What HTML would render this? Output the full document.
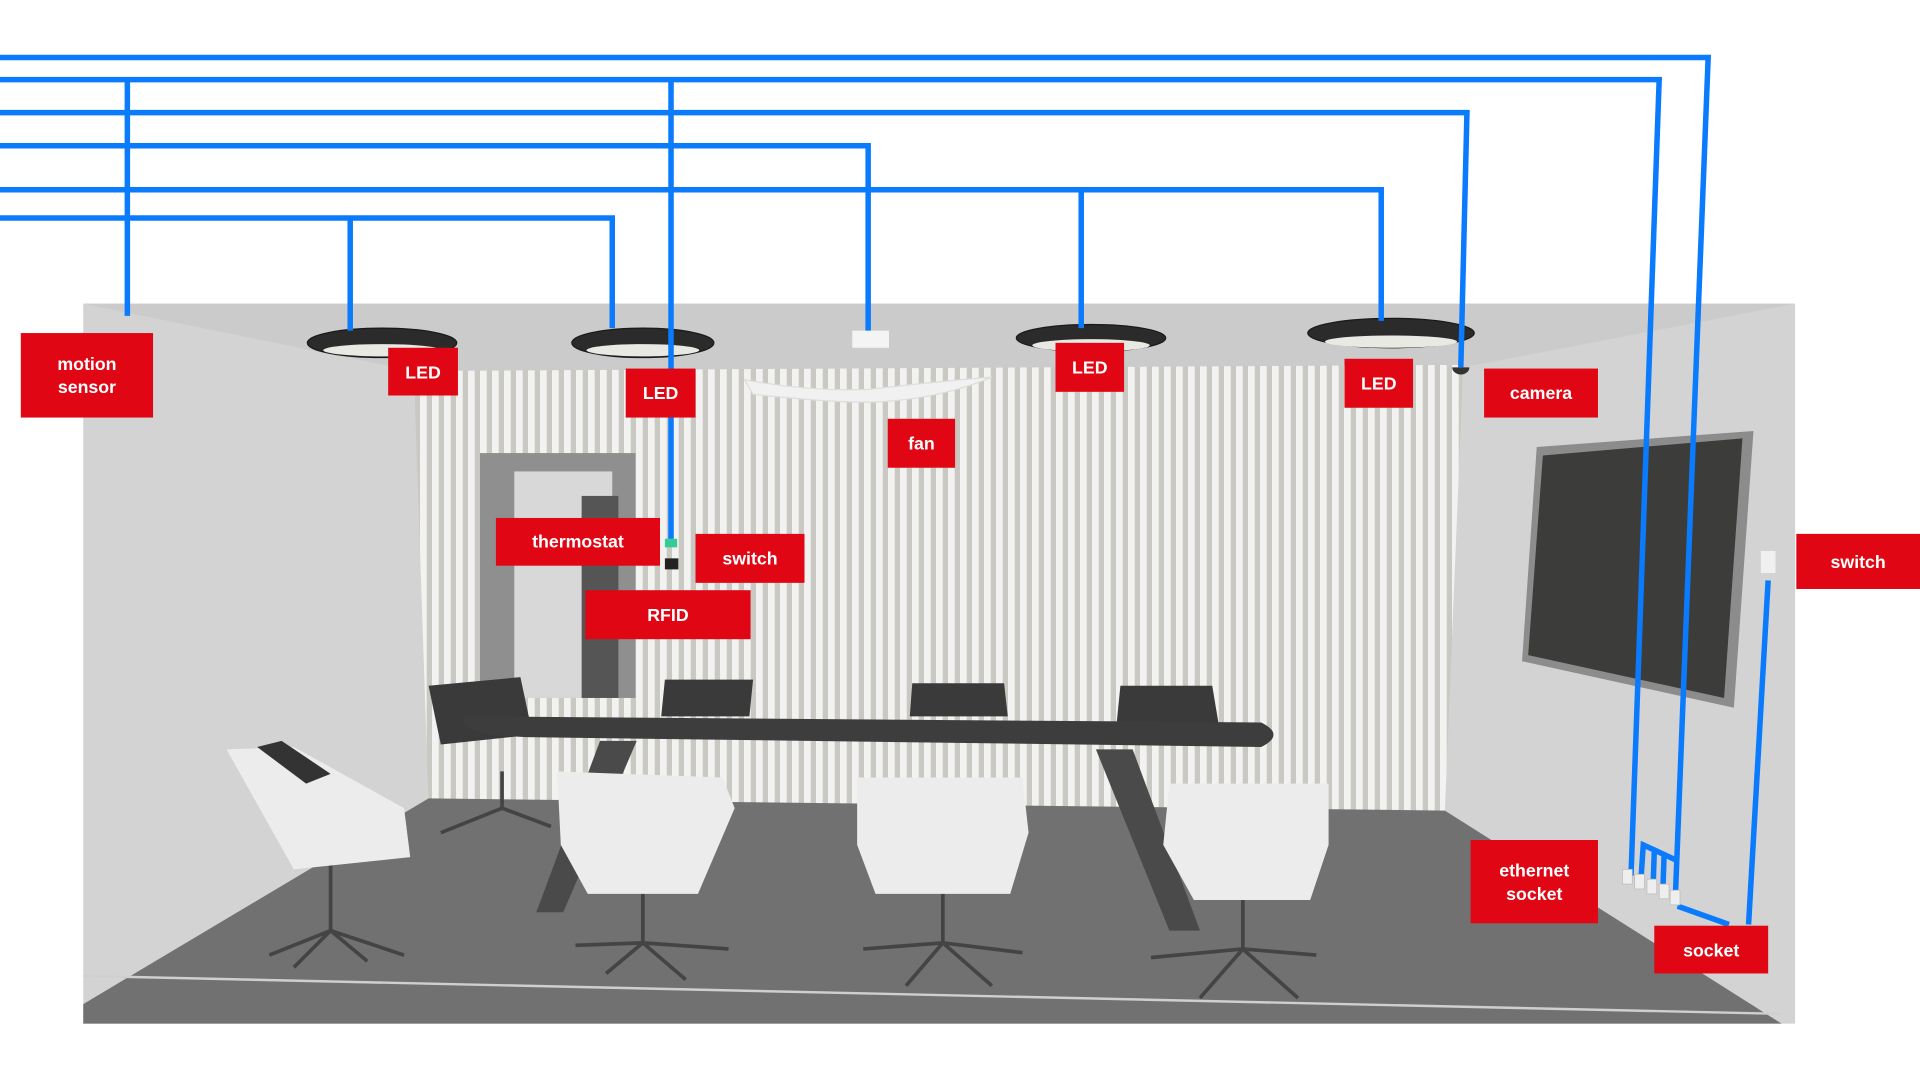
<!DOCTYPE html>
<html><head><meta charset="utf-8"><style>
html,body{margin:0;padding:0;background:#fff;}
svg{display:block}
text{font-family:"Liberation Sans",sans-serif;font-weight:bold;fill:#fff;font-size:14.5px;text-anchor:middle}
</style></head><body>
<svg width="1920" height="1080" viewBox="0 0 1568 882" preserveAspectRatio="none" xmlns="http://www.w3.org/2000/svg">
<defs>
<pattern id="slat" x="0" y="0" width="9.8" height="10" patternUnits="userSpaceOnUse">
<rect width="9.8" height="10" fill="#f2f2f0"/><rect x="5.5" width="4.3" height="10" fill="#c9c8c2"/>
</pattern>
</defs>
<rect x="68" y="248" width="1398" height="588" fill="#d3d3d3"/>
<polygon points="68,248 1466,248 1195,300 338,303" fill="#cbcbcb"/>
<polygon points="338,303 1195,298 1180,662 350,655" fill="url(#slat)"/>
<polygon points="68,820 350,652 1180,662 1455,836 68,836" fill="#717171"/>
<line x1="68" y1="797" x2="1455" y2="828" stroke="#cfcfcf" stroke-width="2"/>
<rect x="392" y="370" width="127" height="200" fill="#8f8f8f"/>
<rect x="420" y="385" width="80" height="185" fill="#d8d8d8"/>
<rect x="475" y="405" width="30" height="165" fill="#555"/>
<polygon points="1255,365 1432,352 1416,578 1243,540" fill="#8c8c8c"/>
<polygon points="1260,372 1423,358 1408,570 1248,535" fill="#3c3c3b"/>
<rect x="1438" y="450" width="12" height="18" fill="#f0f0f0"/>
<polygon points="350,560 425,553 435,600 360,608" fill="#3a3a3a"/>
<polygon points="543,555 615,555 612,585 540,585" fill="#3a3a3a"/>
<polygon points="745,558 820,558 823,585 743,585" fill="#3a3a3a"/>
<polygon points="915,560 990,560 995,590 912,590" fill="#3a3a3a"/>
<path d="M380,585 L1030,590 Q1050,600 1030,610 L430,602 Q370,600 380,585 Z" fill="#3d3d3d"/>
<polygon points="490,605 520,605 460,745 438,745" fill="#4a4a4a"/>
<polygon points="895,612 925,612 980,760 955,760" fill="#4a4a4a"/>
<g stroke="#444" stroke-width="3" fill="none">
<path d="M270,705 L270,760 M220,780 L270,760 L330,780 M270,760 L300,785 M240,790 L270,760"/>
<path d="M525,725 L525,770 M470,772 L525,770 L595,775 M525,770 L560,800 M495,795 L525,770"/>
<path d="M770,725 L770,770 M705,775 L770,770 L835,778 M770,770 L810,805 M740,805 L770,770"/>
<path d="M1015,730 L1015,775 M940,782 L1015,775 L1075,780 M1015,775 L1060,815 M980,815 L1015,775"/>
<path d="M410,630 L410,660 M360,680 L410,660 L450,675"/>
</g>
<polygon points="185,612 240,610 330,660 335,700 240,710" fill="#ececec"/>
<polygon points="210,610 250,640 270,632 230,605" fill="#333"/>
<polygon points="455,630 590,635 600,660 570,730 480,730 458,690" fill="#ececec"/>
<polygon points="700,635 835,635 840,680 825,730 715,730 700,690" fill="#ececec"/>
<polygon points="955,640 1085,640 1085,690 1070,735 975,735 950,690" fill="#ececec"/>
<rect x="696" y="270" width="30" height="14" fill="#f4f4f4"/>
<path d="M608,310 Q660,320 710,318 Q760,312 810,308 Q770,325 720,328 Q690,330 615,322 Z" fill="#f1f1f1" stroke="#ddd"/>
<g fill="#2b2b2b" stroke="#1a1a1a">
<ellipse cx="312" cy="280" rx="61" ry="12"/><ellipse cx="525" cy="280" rx="58" ry="12"/>
<ellipse cx="891" cy="276" rx="61" ry="11"/><ellipse cx="1136" cy="272" rx="68" ry="12"/>
</g>
<g fill="#e9e9e4">
<ellipse cx="312" cy="286" rx="48" ry="5"/><ellipse cx="525" cy="286" rx="46" ry="5"/>
<ellipse cx="891" cy="282" rx="48" ry="5"/><ellipse cx="1136" cy="279" rx="54" ry="5"/>
</g>
<path d="M1186,300 a6,5 0 0 0 14,0 z" fill="#333"/>
<rect x="543" y="456" width="11" height="9" fill="#222"/>
<rect x="543" y="440" width="10" height="7" fill="#3c9"/>
<g stroke="#0a7bfc" stroke-width="4.5" fill="none" stroke-linejoin="miter">
<path d="M0,47 L1395,47 L1368,738"/>
<path d="M0,65 L1355,65 L1332,715"/>
<path d="M104,65 L104,258"/>
<path d="M548,65 L548,440"/>
<path d="M0,92 L1198,92 L1193,300"/>
<path d="M0,119 L709,119 L709,270"/>
<path d="M0,155 L1128,155 L1128,262"/>
<path d="M883,155 L883,268"/>
<path d="M0,178 L500,178 L500,268"/>
<path d="M286,178 L286,270"/>
<path d="M1444,474 L1428,755"/>
<path d="M1370,740 L1412,755"/>
<path d="M1340,720 L1342,690 L1368,702 M1350,725 L1351,695 M1358,728 L1359,698"/>
</g>
<g fill="#eee" stroke="#bbb" stroke-width="0.6">
<rect x="1325" y="710" width="8" height="12"/><rect x="1335" y="714" width="8" height="12"/><rect x="1345" y="718" width="8" height="12"/><rect x="1355" y="722" width="8" height="12"/><rect x="1364" y="727" width="8" height="12"/>
</g>
<g fill="#e10613">
<rect x="17" y="272" width="108" height="69"/>
<rect x="317" y="284" width="57" height="39"/>
<rect x="511" y="301" width="57" height="40"/>
<rect x="725" y="342" width="55" height="40"/>
<rect x="862" y="280" width="56" height="40"/>
<rect x="1098" y="293" width="56" height="40"/>
<rect x="1212" y="301" width="93" height="40"/>
<rect x="405" y="423" width="134" height="39"/>
<rect x="568" y="436" width="89" height="40"/>
<rect x="478" y="482" width="135" height="40"/>
<rect x="1467" y="436" width="101" height="45"/>
<rect x="1201" y="686" width="104" height="68"/>
<rect x="1351" y="756" width="93" height="39"/>
</g>
<text x="71" y="302">motion</text><text x="71" y="321">sensor</text>
<text x="345.5" y="309">LED</text>
<text x="539.5" y="326">LED</text>
<text x="752.5" y="367">fan</text>
<text x="890" y="305">LED</text>
<text x="1126" y="318">LED</text>
<text x="1258.5" y="326">camera</text>
<text x="472" y="447">thermostat</text>
<text x="612.5" y="461">switch</text>
<text x="545.5" y="507">RFID</text>
<text x="1517.5" y="464">switch</text>
<text x="1253" y="716">ethernet</text><text x="1253" y="735">socket</text>
<text x="1397.5" y="781">socket</text>
</svg>
</body></html>
